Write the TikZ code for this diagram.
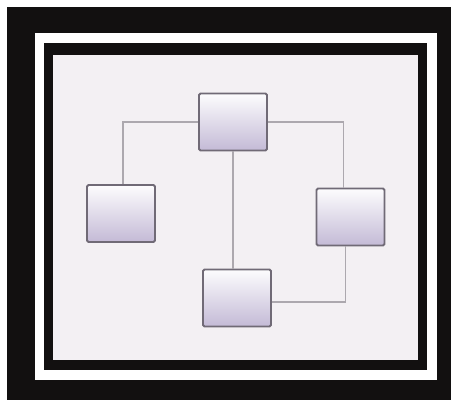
\documentclass[tikz,border=0pt]{standalone}
\usepackage{xcolor}
\usepackage{tikz}
\usetikzlibrary{positioning,calc}
\definecolor{nwframe}{RGB}{18,16,16}
\definecolor{nwpaper}{RGB}{243,240,243}
\definecolor{nwedge}{RGB}{112,106,118}
\definecolor{nwlav}{RGB}{196,186,214}
\definecolor{nwwire}{RGB}{172,168,174}
\tikzset{
  station/.style={rectangle, rounded corners=1.5pt, draw=nwedge, line width=1.8pt, top color=white!96!nwlav, bottom color=nwlav, minimum width=68pt, minimum height=57pt, inner sep=0pt},
  wire/.style={line width=1.8pt, draw=nwwire}
}
\begin{document}
\begin{tikzpicture}[x=1pt,y=-1pt]
\useasboundingbox (0,0) rectangle (451,400);
% frame
\fill[nwframe] (7,7) rectangle (451,400);
\fill[white] (35,33) rectangle (437,380);
\fill[nwframe] (44,43) rectangle (427,370);
\fill[nwpaper] (53,55) rectangle (418,360);
% stations
\node[station] (top) at (233,122) {};
\node[station] (left) at (121,213.5) {};
\node[station] (right) at (350.5,217) {};
\node[station] (bottom) at (237,298) {};
% wiring
\draw[wire] (top.west) -| ([xshift=2pt]left.north);
\draw[wire] (top.east) -| ([xshift=-7pt]right.north);
\draw[wire] (top.south) -- (top.south |- bottom.north);
\draw[wire] ([yshift=-4pt]bottom.east) -| ([xshift=-5pt]right.south);
\end{tikzpicture}
\end{document}
